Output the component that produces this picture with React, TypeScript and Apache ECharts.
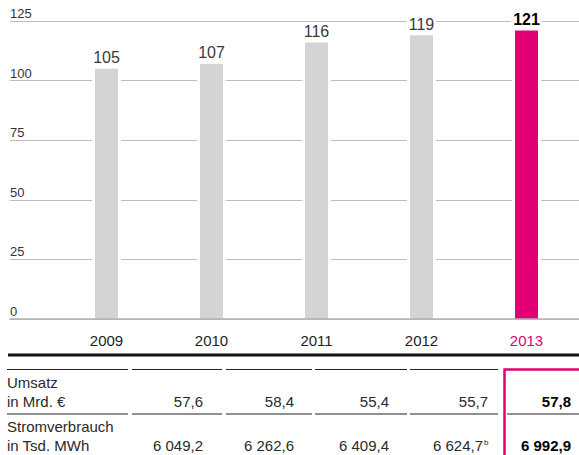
import { useEffect, useRef } from 'react';
import * as echarts from 'echarts';

// ---- data ----
const years = ['2009', '2010', '2011', '2012', '2013'];
const energyIndex = [105, 107, 116, 119, 121];
const revenue = ['57,6', '58,4', '55,4', '55,7', '57,8'];
const powerUse = ['6 049,2', '6 262,6', '6 409,4', '6 624,7', '6 992,9'];
const powerNotes = ['', '', '', 'b', ''];
const rowLabels = [
  ['Umsatz', 'in Mrd. €'],
  ['Stromverbrauch', 'in Tsd. MWh'],
];
const yMin = 0;
const yMax = 125;
const yStep = 25;

// ---- style / layout ----
const FONT = '"Liberation Sans", Arial, Helvetica, sans-serif';
const MAGENTA = '#E20074';
const GREY_BAR = '#D3D4D6';
const GRID_LINE = '#BEBEBE';
const TEXT = '#2a2a2a';
const colRight = [203, 294, 389, 488, 571];
const segments = [
  [7, 128],
  [132, 222],
  [226, 312],
  [315, 407],
  [410, 498],
];
const rowLineY = [369.5, 414];
const rowBaselines = [
  [388, 407],
  [432, 450.5],
];

function centerY(baseline: number, size: number) {
  return baseline - 0.3465 * size;
}

function buildGraphic() {
  const els: any[] = [];
  els.push({
    type: 'line',
    shape: { x1: 8, y1: 355, x2: 579, y2: 355 },
    style: { stroke: '#111', lineWidth: 3 },
  });
  rowLineY.forEach((y) => {
    segments.forEach(([a, b]) => {
      els.push({
        type: 'line',
        shape: { x1: a, y1: y, x2: b, y2: y },
        style: { stroke: '#222', lineWidth: 1.2 },
      });
    });
  });
  els.push({
    type: 'line',
    shape: { x1: 507, y1: rowLineY[1], x2: 579, y2: rowLineY[1] },
    style: { stroke: '#222', lineWidth: 1.2 },
  });
  els.push({
    type: 'rect',
    shape: { x: 504.5, y: 369.5, width: 100, height: 100 },
    style: { fill: 'none', stroke: MAGENTA, lineWidth: 2.5 },
  });
  const fs = 15;
  rowLabels.forEach((lines, r) => {
    lines.forEach((t, k) => {
      els.push({
        type: 'text',
        x: 7,
        y: centerY(rowBaselines[r][k], fs),
        style: {
          text: t,
          font: `${fs}px ${FONT}`,
          fill: TEXT,
          textAlign: 'left',
          textVerticalAlign: 'middle',
        },
      });
    });
  });
  const rows = [revenue, powerUse];
  rows.forEach((vals, r) => {
    vals.forEach((v, i) => {
      const last = i === vals.length - 1;
      const note = r === 1 ? powerNotes[i] : '';
      const right = note ? colRight[i] - 5 : colRight[i];
      els.push({
        type: 'text',
        x: right,
        y: centerY(rowBaselines[r][1], fs),
        style: {
          text: v,
          font: `${last ? 'bold ' : ''}${fs}px ${FONT}`,
          fill: last ? '#000' : TEXT,
          textAlign: 'right',
          textVerticalAlign: 'middle',
        },
      });
      if (note) {
        els.push({
          type: 'text',
          x: right + 1,
          y: centerY(rowBaselines[r][1] - 5, 8),
          style: {
            text: note,
            font: `8px ${FONT}`,
            fill: TEXT,
            textAlign: 'left',
            textVerticalAlign: 'middle',
          },
        });
      }
    });
  });
  return els;
}

export default function App() {
  const ref = useRef<HTMLDivElement>(null);
  useEffect(() => {
    const chart = echarts.init(ref.current!, null, { renderer: 'svg' });
    const lastIdx = years.length - 1;
    chart.setOption({
      animation: false,
      backgroundColor: '#fff',
      textStyle: { fontFamily: FONT },
      grid: [
        { left: 10, width: 569, top: 21, height: 298 },
        { left: 54, width: 529.5, top: 21, height: 298 },
      ],
      xAxis: [
        {
          gridIndex: 0,
          type: 'value',
          min: 0,
          max: 1,
          z: 10,
          axisLine: { show: true, lineStyle: { color: '#B3B3B3', width: 1.6 } },
          axisTick: { show: false },
          axisLabel: { show: false },
          splitLine: { show: false },
        },
        {
          gridIndex: 1,
          type: 'category',
          data: years,
          axisLine: { show: false },
          axisTick: { show: false },
          axisLabel: {
            margin: 14,
            fontSize: 15,
            lineHeight: 15,
            fontFamily: FONT,
            color: (_v: any, idx: number) => (idx === lastIdx ? MAGENTA : '#1e1e1e'),
          },
        },
        {
          gridIndex: 1,
          type: 'category',
          data: years,
          show: false,
        },
      ],
      yAxis: [
        {
          gridIndex: 0,
          type: 'value',
          min: yMin,
          max: yMax,
          interval: yStep,
          axisLine: { show: false },
          axisTick: { show: false },
          splitLine: { show: true, lineStyle: { color: GRID_LINE, width: 1 } },
          axisLabel: {
            inside: true,
            margin: 0,
            fontSize: 13,
            lineHeight: 15,
            verticalAlign: 'bottom',
            color: '#333',
            fontFamily: FONT,
          },
        },
        {
          gridIndex: 1,
          type: 'value',
          min: yMin,
          max: yMax,
          show: false,
        },
      ],
      series: [
        {
          type: 'bar',
          xAxisIndex: 2,
          yAxisIndex: 1,
          data: energyIndex,
          barWidth: 29,
          z: 1,
          silent: true,
          itemStyle: { color: '#fff' },
        },
        {
          type: 'bar',
          xAxisIndex: 1,
          yAxisIndex: 1,
          barWidth: 23,
          z: 2,
          data: energyIndex.map((v, i) => ({
            value: v,
            itemStyle: { color: i === lastIdx ? MAGENTA : GREY_BAR },
            label:
              i === lastIdx
                ? { fontWeight: 'bold', color: '#000' }
                : undefined,
          })),
          label: {
            show: true,
            position: 'top',
            distance: 3,
            fontSize: 16,
            lineHeight: 16,
            fontFamily: FONT,
            color: '#3a3a3a',
            backgroundColor: '#fff',
            padding: [0, 2, 0, 2],
          },
        },
      ],
      graphic: buildGraphic(),
    });
    return () => chart.dispose();
  }, []);
  return (
    <div
      ref={ref}
      style={{ position: 'absolute', left: 0, top: 0, width: 579, height: 455 }}
    />
  );
}
